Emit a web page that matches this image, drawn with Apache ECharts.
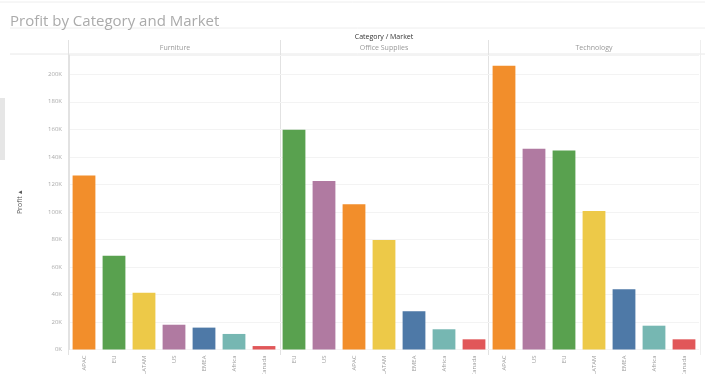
<!DOCTYPE html>
<html><head><meta charset="utf-8">
<script src="https://cdn.jsdelivr.net/npm/echarts@6/dist/echarts.min.js"></script>
<style>html,body{margin:0;padding:0;background:#fff}#c{width:705px;height:374px}</style>
</head><body><div id="c"></div>
<script>
var categories = ['Furniture', 'Office Supplies', 'Technology'];
var furnitureMarkets = ['APAC', 'EU', 'LATAM', 'US', 'EMEA', 'Africa', 'Canada'];
var furnitureProfit = [126400, 68200, 41300, 18000, 15900, 11300, 2500];
var officeMarkets = ['EU', 'US', 'APAC', 'LATAM', 'EMEA', 'Africa', 'Canada'];
var officeProfit = [159600, 122500, 105600, 79600, 27800, 14700, 7400];
var techMarkets = ['APAC', 'US', 'EU', 'LATAM', 'EMEA', 'Africa', 'Canada'];
var techProfit = [206200, 145800, 144600, 100700, 43800, 17300, 7400];
var yTicks = [0, 20000, 40000, 60000, 80000, 100000, 120000, 140000, 160000, 180000, 200000];

var marketColors = {APAC:'#f28e2b', EU:'#59a14f', LATAM:'#edc948', US:'#b07aa1', EMEA:'#4e79a7', Africa:'#76b7b2', Canada:'#e15759'};
var panels = [[furnitureMarkets, furnitureProfit], [officeMarkets, officeProfit], [techMarkets, techProfit]];
var lefts = [69, 279, 489];
var chart = echarts.init(document.getElementById('c'));
var grids = [], xAxes = [], yAxes = [], series = [];
panels.forEach(function (p, i) {
  grids.push({left: lefts[i], width: 210, top: 55, bottom: 24.5, containLabel: false, outerBoundsMode: 'none'});
  xAxes.push({type: 'category', gridIndex: i, data: p[0],
    axisLine: {show: false}, axisTick: {show: false},
    axisLabel: {rotate: 90, fontSize: 6, color: '#999', margin: 6, fontFamily: 'Open Sans'}});
  yAxes.push({type: 'value', gridIndex: i, min: 0, max: 214000, interval: 20000,
    splitLine: {show: true, lineStyle: {color: '#f3f3f3', width: 1}},
    axisLine: {show: i === 0, lineStyle: {color: '#e2e2e2'}},
    axisTick: {show: false},
    axisLabel: {show: i === 0, fontSize: 6, color: '#aaa', margin: 7, fontFamily: 'Open Sans',
      formatter: function (v) { return yTicks.indexOf(v) >= 0 ? (v / 1000) + 'K' : ''; }},
    name: i === 0 ? 'Profit \u25B4' : '', nameLocation: 'middle', nameGap: 46, nameRotate: 90,
    nameTextStyle: {fontSize: 7, color: '#555', fontFamily: 'Open Sans'}});
  series.push({type: 'bar', xAxisIndex: i, yAxisIndex: i, barCategoryGap: '24%',
    data: p[1].map(function (v, j) { return {value: v, itemStyle: {color: marketColors[p[0][j]]}}; })});
});
var headerY = 48;
chart.setOption({
  animation: false,
  title: {text: 'Profit by Category and Market', left: 5, top: 9,
    textStyle: {fontSize: 15, fontWeight: 'normal', color: '#ababab', fontFamily: 'Open Sans'}},
  grid: grids, xAxis: xAxes, yAxis: yAxes, series: series,
  graphic: [
    {type: 'rect', shape: {x: 0, y: 98, width: 5, height: 62}, style: {fill: '#e6e6e6'}},
    {type: 'line', shape: {x1: 0, y1: 2, x2: 705, y2: 2}, style: {stroke: '#eeeeee', lineWidth: 1}},
    {type: 'line', shape: {x1: 10, y1: 28, x2: 705, y2: 28}, style: {stroke: '#eeeeee', lineWidth: 1}},
    {type: 'line', shape: {x1: 10, y1: 54, x2: 705, y2: 54}, style: {stroke: '#e8e8e8', lineWidth: 1}},
    {type: 'line', shape: {x1: 68.5, y1: 40, x2: 68.5, y2: 355}, style: {stroke: '#e2e2e2', lineWidth: 1}},
    {type: 'line', shape: {x1: 280.5, y1: 40, x2: 280.5, y2: 355}, style: {stroke: '#e2e2e2', lineWidth: 1}},
    {type: 'line', shape: {x1: 488.5, y1: 40, x2: 488.5, y2: 355}, style: {stroke: '#e2e2e2', lineWidth: 1}},
    {type: 'line', shape: {x1: 700.5, y1: 40, x2: 700.5, y2: 355}, style: {stroke: '#eeeeee', lineWidth: 1}},
    {type: 'text', x: 384, y: 37, style: {text: 'Category / Market', fontSize: 7, fill: '#333', align: 'center', verticalAlign: 'middle', fontFamily: 'Open Sans'}},
    {type: 'text', x: 175, y: headerY, style: {text: categories[0], fontSize: 7, fill: '#999', align: 'center', verticalAlign: 'middle', fontFamily: 'Open Sans'}},
    {type: 'text', x: 384, y: headerY, style: {text: categories[1], fontSize: 7, fill: '#999', align: 'center', verticalAlign: 'middle', fontFamily: 'Open Sans'}},
    {type: 'text', x: 594, y: headerY, style: {text: categories[2], fontSize: 7, fill: '#999', align: 'center', verticalAlign: 'middle', fontFamily: 'Open Sans'}}
  ]
});
</script></body></html>
